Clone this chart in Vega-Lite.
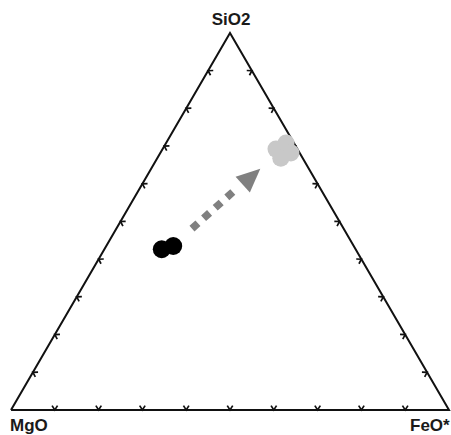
{
  "$schema": "https://vega.github.io/schema/vega-lite/v6.json",
  "width": 451,
  "height": 435,
  "padding": 0,
  "autosize": {"type": "none"},
  "background": "white",
  "config": {"view": {"stroke": null}},
  "datasets": {
    "outline": [
      {"order": 1, "x": 0, "y": 0},
      {"order": 2, "x": 50, "y": 100},
      {"order": 3, "x": 100, "y": 0},
      {"order": 4, "x": 0, "y": 0}
    ],
    "ticks": [
      {"side": "bottom", "x": 10, "y": 0}, {"side": "bottom", "x": 20, "y": 0}, {"side": "bottom", "x": 30, "y": 0},
      {"side": "bottom", "x": 40, "y": 0}, {"side": "bottom", "x": 50, "y": 0}, {"side": "bottom", "x": 60, "y": 0},
      {"side": "bottom", "x": 70, "y": 0}, {"side": "bottom", "x": 80, "y": 0}, {"side": "bottom", "x": 90, "y": 0},
      {"side": "left", "x": 5, "y": 10}, {"side": "left", "x": 10, "y": 20}, {"side": "left", "x": 15, "y": 30},
      {"side": "left", "x": 20, "y": 40}, {"side": "left", "x": 25, "y": 50}, {"side": "left", "x": 30, "y": 60},
      {"side": "left", "x": 35, "y": 70}, {"side": "left", "x": 40, "y": 80}, {"side": "left", "x": 45, "y": 90},
      {"side": "right", "x": 95, "y": 10}, {"side": "right", "x": 90, "y": 20}, {"side": "right", "x": 85, "y": 30},
      {"side": "right", "x": 80, "y": 40}, {"side": "right", "x": 75, "y": 50}, {"side": "right", "x": 70, "y": 60},
      {"side": "right", "x": 65, "y": 70}, {"side": "right", "x": 60, "y": 80}, {"side": "right", "x": 55, "y": 90}
    ],
    "samples": [
      {"group": "after", "x": 60.5, "y": 69.2},
      {"group": "after", "x": 62.8, "y": 70.8},
      {"group": "after", "x": 63.9, "y": 68.2},
      {"group": "after", "x": 61.6, "y": 66.8},
      {"group": "before", "x": 34.41, "y": 42.63},
      {"group": "before", "x": 37.05, "y": 43.5}
    ],
    "arrow": [
      {"order": 1, "x": 41.32, "y": 48.12},
      {"order": 2, "x": 51.87, "y": 59.1}
    ],
    "arrowhead": [
      {"x": 54.91, "y": 61.87}
    ],
    "labels": [
      {"label": "SiO2", "x": 50.23, "y": 101.99},
      {"label": "MgO", "x": -0.23, "y": -5.7},
      {"label": "FeO*", "x": 91.1, "y": -5.7}
    ]
  },
  "encoding": {
    "x": {"field": "x", "type": "quantitative", "axis": null,
          "scale": {"domain": [-2.511, 100.457], "nice": false, "zero": false}},
    "y": {"field": "y", "type": "quantitative", "axis": null,
          "scale": {"domain": [-6.631, 108.753], "nice": false, "zero": false}}
  },
  "layer": [
    {
      "data": {"name": "outline"},
      "mark": {"type": "line", "color": "#111111", "strokeWidth": 2, "strokeJoin": "miter"},
      "encoding": {"order": {"field": "order", "type": "quantitative"}}
    },
    {
      "data": {"name": "ticks"},
      "transform": [{"filter": "datum.side === 'bottom'"}],
      "mark": {"type": "point", "shape": "M-1,-1.6L0,0L1,-1.6", "filled": false, "size": 30, "strokeWidth": 1.7, "color": "#111111", "opacity": 1, "angle": 0}
    },
    {
      "data": {"name": "ticks"},
      "transform": [{"filter": "datum.side === 'left'"}],
      "mark": {"type": "point", "shape": "M-1,-1.6L0,0L1,-1.6", "filled": false, "size": 30, "strokeWidth": 1.7, "color": "#111111", "opacity": 1, "angle": 120}
    },
    {
      "data": {"name": "ticks"},
      "transform": [{"filter": "datum.side === 'right'"}],
      "mark": {"type": "point", "shape": "M-1,-1.6L0,0L1,-1.6", "filled": false, "size": 30, "strokeWidth": 1.7, "color": "#111111", "opacity": 1, "angle": 240}
    },
    {
      "data": {"name": "samples"},
      "transform": [{"filter": "datum.group === 'after'"}],
      "mark": {"type": "circle", "size": 290, "color": "#c8c8c8", "opacity": 1}
    },
    {
      "data": {"name": "samples"},
      "transform": [{"filter": "datum.group === 'before'"}],
      "mark": {"type": "circle", "size": 320, "color": "#000000", "opacity": 1}
    },
    {
      "data": {"name": "arrow"},
      "mark": {"type": "line", "color": "#808080", "strokeWidth": 7.5, "strokeDash": [8, 7.6], "strokeCap": "butt"},
      "encoding": {"order": {"field": "order", "type": "quantitative"}}
    },
    {
      "data": {"name": "arrowhead"},
      "mark": {"type": "point", "shape": "M0,-1L0.9,1L-0.9,1Z", "filled": true, "size": 560, "color": "#808080", "opacity": 1, "angle": 48}
    },
    {
      "data": {"name": "labels"},
      "transform": [{"filter": "datum.label === 'SiO2'"}],
      "mark": {"type": "text", "align": "center", "baseline": "alphabetic", "font": "Liberation Sans", "fontWeight": "bold", "fontSize": 17, "color": "#1a1a1a"},
      "encoding": {"text": {"field": "label", "type": "nominal"}}
    },
    {
      "data": {"name": "labels"},
      "transform": [{"filter": "datum.label !== 'SiO2'"}],
      "mark": {"type": "text", "align": "left", "baseline": "alphabetic", "font": "Liberation Sans", "fontWeight": "bold", "fontSize": 17, "color": "#1a1a1a"},
      "encoding": {"text": {"field": "label", "type": "nominal"}}
    }
  ]
}
